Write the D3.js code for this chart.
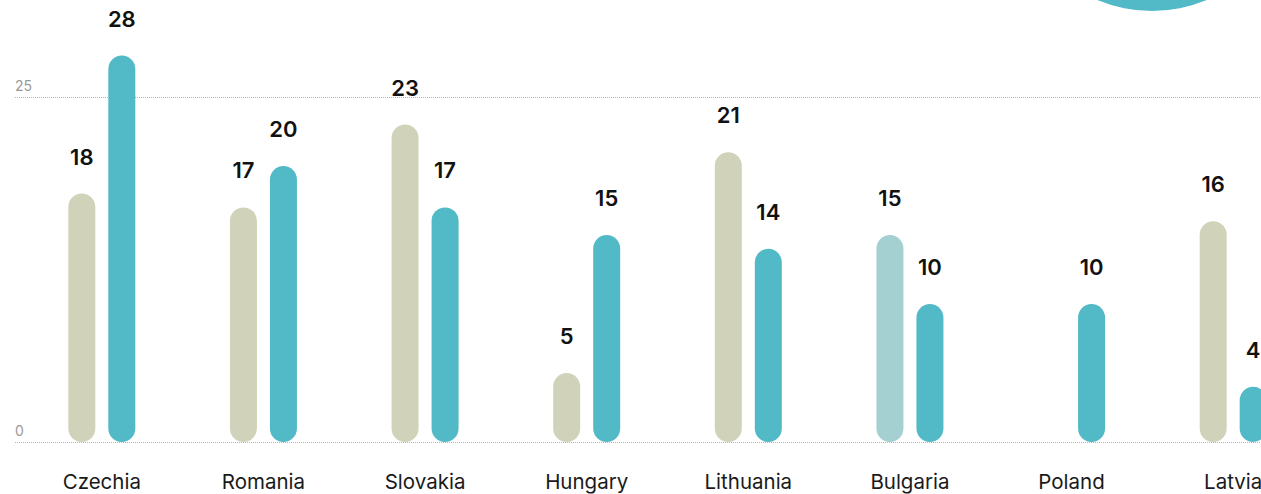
<!DOCTYPE html>
<html>
<head>
<meta charset="utf-8">
<script src="https://cdn.jsdelivr.net/npm/d3@7"></script>
<style>
  body { margin: 0; background: #fff; }
  svg { display: block; font-family: Inter, "Noto Sans", sans-serif; }
  .tick-label { fill: #9a9a9a; font-size: 14px; }
  .value { font-size: 22px; font-weight: 600; fill: #111; text-anchor: middle; }
  .country { font-size: 20.5px; fill: #1a1a1a; text-anchor: middle; }
</style>
</head>
<body>
<svg id="chart"></svg>
<script>
const countries = ["Czechia", "Romania", "Slovakia", "Hungary", "Lithuania", "Bulgaria", "Poland", "Latvia"];
const first = [18, 17, 23, 5, 21, 15, null, 16];
const second = [28, 20, 17, 15, 14, 10, 10, 4];
const gridTicks = [0, 25];

const width = 1261, height = 494;
const barW = 27, offset = 20;
const beige = "#d0d3b9", teal = "#52bac6", lightTeal = "#a4d0d1";

const svg = d3.select("#chart")
    .attr("width", width)
    .attr("height", height);

const x = d3.scaleBand()
    .domain(countries)
    .range([21, 1314])
    .padding(0);

const y = d3.scaleLinear()
    .domain([0, 25])
    .range([442, 97]);

// decorative circle, top right
svg.append("circle")
    .attr("cx", 1152)
    .attr("cy", -132)
    .attr("r", 143)
    .attr("fill", teal);

// grid
svg.selectAll(".grid")
  .data(gridTicks)
  .enter().append("line")
    .attr("class", "grid")
    .attr("x1", 15)
    .attr("x2", width)
    .attr("y1", d => y(d) + 0.5)
    .attr("y2", d => y(d) + 0.5)
    .attr("stroke", "#b5b5b5")
    .attr("stroke-width", 1)
    .attr("stroke-dasharray", "1,1");

svg.selectAll(".tick-label")
  .data(gridTicks)
  .enter().append("text")
    .attr("class", "tick-label")
    .attr("x", 15)
    .attr("y", d => y(d) - 6)
    .text(d => d);

const bars = [];
countries.forEach((c, i) => {
  const cx = x(c) + x.bandwidth() / 2;
  if (first[i] != null) bars.push({ c, v: first[i], cx: cx - offset, fill: c === "Bulgaria" ? lightTeal : beige });
  if (second[i] != null) bars.push({ c, v: second[i], cx: cx + offset, fill: teal });
});

svg.selectAll(".bar")
  .data(bars)
  .enter().append("rect")
    .attr("class", "bar")
    .attr("x", d => d.cx - barW / 2)
    .attr("width", barW)
    .attr("y", d => y(d.v))
    .attr("height", d => y(0) - y(d.v))
    .attr("rx", barW / 2)
    .attr("fill", d => d.fill);

svg.selectAll(".value")
  .data(bars)
  .enter().append("text")
    .attr("class", "value")
    .attr("x", d => d.cx)
    .attr("y", d => y(d.v) - 29)
    .text(d => d.v);

svg.selectAll(".country")
  .data(countries)
  .enter().append("text")
    .attr("class", "country")
    .attr("x", d => x(d) + x.bandwidth() / 2)
    .attr("y", 489)
    .text(d => d);
</script>
</body>
</html>
